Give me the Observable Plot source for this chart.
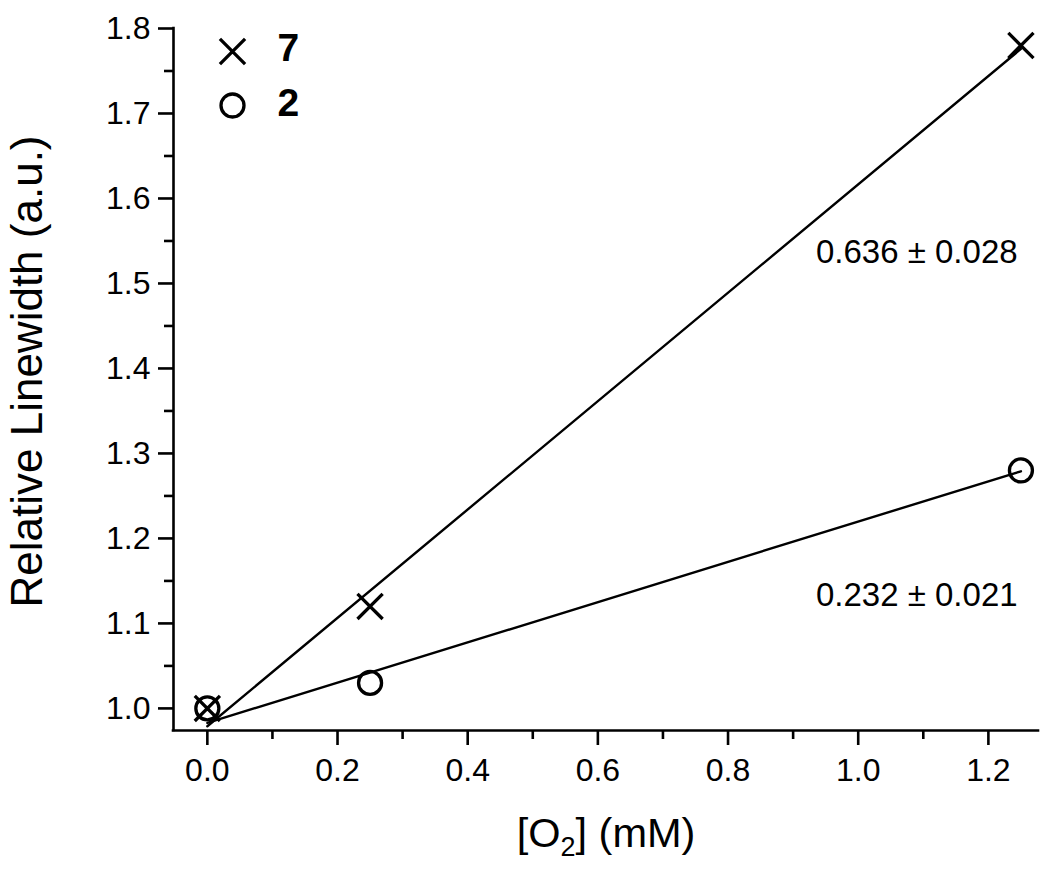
<!DOCTYPE html>
<html><head><meta charset="utf-8">
<script src="https://cdn.jsdelivr.net/npm/d3@7"></script>
<script src="https://cdn.jsdelivr.net/npm/@observablehq/plot@0.6"></script>
<style>body{margin:0;background:#fff} svg{display:block}</style>
</head><body><div id="chart"></div>
<script>
// Data
const o2 = [0, 0.25, 1.25];
const series7 = [1.0, 1.12, 1.78];
const series2 = [1.0, 1.03, 1.28];
const fitX = [0, 1.25];
const fit7 = [0.979, 1.776];
const fit2 = [0.983, 1.279];
const xMajor = [0, 0.2, 0.4, 0.6, 0.8, 1.0, 1.2];
const xMinor = [0.1, 0.3, 0.5, 0.7, 0.9, 1.1];
const yMajor = [1.0, 1.1, 1.2, 1.3, 1.4, 1.5, 1.6, 1.7, 1.8];
const yMinor = [1.05, 1.15, 1.25, 1.35, 1.45, 1.55, 1.65, 1.75];
const annotX = [1.09, 1.09];
const annotY = [1.537, 1.133];
const annotText = ["0.636 \u00B1 0.028", "0.232 \u00B1 0.021"];
const legendLabels = ["7", "2"];
const legendSymbols = ["times", "circle"];
const xTitle = "[O2] (mM)";
const yTitle = "Relative Linewidth (a.u.)";
const xDomain = [-0.052, 1.277];
const yDomain = [0.974, 1.8];

const pts7 = o2.map((x, i) => ({x, y: series7[i]}));
const pts2 = o2.map((x, i) => ({x, y: series2[i]}));
const line7 = fitX.map((x, i) => ({x, y: fit7[i]}));
const line2 = fitX.map((x, i) => ({x, y: fit2[i]}));
const annots = annotX.map((x, i) => ({x, y: annotY[i], t: annotText[i]}));

const font = "'Liberation Sans', Arial, Helvetica, sans-serif";
const sw = 2.6;

const chart = Plot.plot({
  width: 1050, height: 876,
  marginLeft: 173, marginRight: 12, marginTop: 28, marginBottom: 146,
  style: {fontFamily: font, background: "#fff", color: "#000"},
  x: {domain: xDomain, axis: null},
  y: {domain: yDomain, axis: null},
  marks: [
    Plot.axisX({ticks: xMajor, tickSize: 15, tickPadding: 13, tickFormat: d => d.toFixed(1), fontSize: 32, strokeWidth: sw, label: null}),
    Plot.axisX({ticks: xMinor, tickSize: 9, tickFormat: () => "", strokeWidth: sw, label: null}),
    Plot.axisY({ticks: yMajor, tickSize: 15, tickPadding: 8, tickFormat: d => d.toFixed(1), fontSize: 32, strokeWidth: sw, label: null}),
    Plot.axisY({ticks: yMinor, tickSize: 9, tickFormat: () => "", strokeWidth: sw, label: null}),
    Plot.ruleY([yDomain[0]], {stroke: "#000", strokeWidth: sw, strokeLinecap: "square"}),
    Plot.ruleX([xDomain[0]], {stroke: "#000", strokeWidth: sw, strokeLinecap: "square"}),
    Plot.line(line7, {x: "x", y: "y", stroke: "#000", strokeWidth: 2.4}),
    Plot.line(line2, {x: "x", y: "y", stroke: "#000", strokeWidth: 2.4}),
    Plot.dot(pts7, {x: "x", y: "y", symbol: "times", r: 11.5, stroke: "#000", strokeWidth: 3.3}),
    Plot.dot(pts2, {x: "x", y: "y", symbol: "circle", r: 11.5, stroke: "#000", strokeWidth: 3.3, fill: "none"}),
    Plot.text(annots, {x: "x", y: "y", text: "t", fontSize: 33, fill: "#000"}),
    // legend
    Plot.dot([legendLabels[0]], {frameAnchor: "top-left", dx: 59, dy: 23, symbol: legendSymbols[0], r: 11.5, stroke: "#000", strokeWidth: 3.3}),
    Plot.dot([legendLabels[1]], {frameAnchor: "top-left", dx: 59, dy: 77, symbol: legendSymbols[1], r: 11.5, stroke: "#000", strokeWidth: 3.3, fill: "none"}),
    Plot.text([legendLabels[0]], {text: d => d, frameAnchor: "top-left", dx: 104, dy: 20, textAnchor: "start", lineAnchor: "middle", fontSize: 39, fontWeight: "bold", fill: "#000"}),
    Plot.text([legendLabels[1]], {text: d => d, frameAnchor: "top-left", dx: 104, dy: 75, textAnchor: "start", lineAnchor: "middle", fontSize: 39, fontWeight: "bold", fill: "#000"}),
    // axis titles
    Plot.text([xTitle], {text: d => d, frameAnchor: "bottom", dy: 103, textAnchor: "middle", lineAnchor: "middle", fontSize: 41.5, fill: "#000"}),
    Plot.text([yTitle], {text: d => d, frameAnchor: "left", dx: -146, dy: -8, rotate: -90, textAnchor: "middle", lineAnchor: "middle", fontSize: 44, fill: "#000"})
  ]
});

// subscript for O2
chart.querySelectorAll("text").forEach(t => {
  if (t.textContent === xTitle) {
    t.textContent = "";
    const ns = "http://www.w3.org/2000/svg";
    const a = document.createElementNS(ns, "tspan"); a.textContent = "[O";
    const b = document.createElementNS(ns, "tspan"); b.textContent = "2";
    b.setAttribute("font-size", "27"); b.setAttribute("dy", "0.35em");
    const c = document.createElementNS(ns, "tspan"); c.textContent = "] (mM)";
    c.setAttribute("dy", "-0.228em");
    t.append(a, b, c);
  }
});
document.getElementById("chart").append(chart);
</script>
</body></html>
